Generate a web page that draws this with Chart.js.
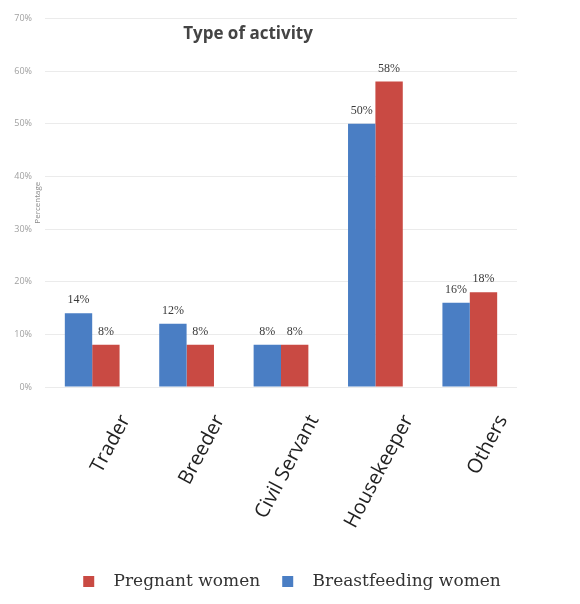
<!DOCTYPE html>
<html>
<head>
<meta charset="utf-8">
<script src="https://cdn.jsdelivr.net/npm/chart.js@4.4.1/dist/chart.umd.min.js"></script>
<style>
  html, body { margin: 0; padding: 0; background: #fff; }
  #wrap { width: 580px; height: 604px; }
</style>
</head>
<body>
<div id="wrap"><canvas id="activityChart"></canvas></div>
<script>
const categories = ['Trader', 'Breeder', 'Civil Servant', 'Housekeeper', 'Others'];
const breastfeeding = [14, 12, 8, 50, 16];
const pregnant = [8, 8, 8, 58, 18];
const yTicks = [0, 10, 20, 30, 40, 50, 60, 70];

// value labels above each bar
const barLabels = {
  id: 'barLabels',
  afterDatasetsDraw(chart) {
    const ctx = chart.ctx;
    ctx.save();
    ctx.font = '12px "Liberation Serif"';
    ctx.fillStyle = '#3a3a3a';
    ctx.textAlign = 'center';
    ctx.textBaseline = 'bottom';
    chart.data.datasets.forEach((ds, i) => {
      chart.getDatasetMeta(i).data.forEach((bar, j) => {
        ctx.fillText(ds.data[j] + '%', bar.x, bar.y - 7);
      });
    });
    ctx.restore();
  }
};

// title sits inside the plot, and the small y title next to the ticks
const extraText = {
  id: 'extraText',
  afterDraw(chart) {
    const ctx = chart.ctx;
    const area = chart.chartArea;
    ctx.save();
    ctx.font = 'bold 17px "Open Sans"';
    ctx.fillStyle = '#444';
    ctx.textAlign = 'center';
    ctx.textBaseline = 'middle';
    ctx.fillText('Type of activity', area.left + 203, area.top + 16);

    ctx.translate(area.left - 7, (area.top + area.bottom) / 2);
    ctx.rotate(-Math.PI / 2);
    ctx.font = '8px "Open Sans"';
    ctx.fillStyle = '#8a8a8a';
    ctx.fillText('Percentage', 0, 0);
    ctx.restore();
  }
};

new Chart(document.getElementById('activityChart'), {
  type: 'bar',
  data: {
    labels: categories,
    datasets: [
      {
        label: 'Breastfeeding women',
        data: breastfeeding,
        backgroundColor: '#4a7ec4',
        categoryPercentage: 0.58,
        barPercentage: 1.0
      },
      {
        label: 'Pregnant women',
        data: pregnant,
        backgroundColor: '#c94a43',
        categoryPercentage: 0.58,
        barPercentage: 1.0
      }
    ]
  },
  options: {
    responsive: true,
    maintainAspectRatio: false,
    animation: false,
    layout: { padding: { top: 16, right: 0, left: 4, bottom: 4 } },
    plugins: {
      title: { display: false },
      tooltip: { enabled: false },
      legend: {
        position: 'bottom',
        reverse: true,
        labels: {
          font: { family: '"DejaVu Serif"', size: 17 },
          color: '#333',
          boxWidth: 11,
          boxHeight: 11,
          padding: 22,
          generateLabels(chart) {
            return Chart.defaults.plugins.legend.labels.generateLabels(chart).map(l => {
              l.text = '  ' + l.text;
              l.lineWidth = 0;
              return l;
            });
          }
        }
      }
    },
    scales: {
      x: {
        grid: { display: false, drawTicks: false },
        border: { display: false },
        ticks: {
          font: { family: '"Open Sans"', size: 20 },
          color: '#222',
          minRotation: 62,
          maxRotation: 62,
          labelOffset: 33,
          padding: 24,
          autoSkip: false
        },
        afterFit(scale) { scale.height = 164; }
      },
      y: {
        min: 0,
        max: 70,
        afterBuildTicks(scale) { scale.ticks = yTicks.map(v => ({ value: v })); },
        afterFit(scale) { scale.width = 41; },
        grid: { color: '#ebebeb', drawTicks: false },
        border: { display: false },
        ticks: {
          font: { family: '"Open Sans"', size: 9 },
          color: '#a0a0a0',
          padding: 13,
          callback: v => v + '%'
        }
      },
      // empty right margin so the legend centres on the whole width
      yRight: {
        position: 'right',
        grid: { display: false, drawTicks: false },
        border: { display: false },
        ticks: { display: false },
        afterFit(scale) { scale.width = 63; }
      }
    }
  },
  plugins: [barLabels, extraText]
});
</script>
</body>
</html>
